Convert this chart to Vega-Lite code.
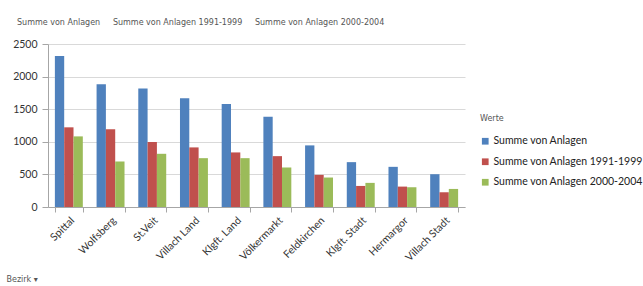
{
  "$schema": "https://vega.github.io/schema/vega-lite/v6.json",
  "autosize": {"type": "none"},
  "padding": {"left": 48, "top": 44, "right": 178, "bottom": 79},
  "width": 417,
  "height": 163,
  "background": "white",
  "title": {
    "text": "Summe von Anlagen\u00a0\u00a0\u00a0\u00a0\u00a0Summe von Anlagen 1991-1999\u00a0\u00a0\u00a0\u00a0\u00a0Summe von Anlagen 2000-2004",
    "anchor": "start",
    "frame": "group",
    "dx": -31,
    "offset": 12,
    "font": "DejaVu Sans",
    "fontSize": 8,
    "fontWeight": "normal",
    "color": "#555555"
  },
  "data": {
    "values": [
      {"Bezirk": "Spittal", "Werte": "Summe von Anlagen", "Wert": 2315},
      {"Bezirk": "Spittal", "Werte": "Summe von Anlagen 1991-1999", "Wert": 1222},
      {"Bezirk": "Spittal", "Werte": "Summe von Anlagen 2000-2004", "Wert": 1083},
      {"Bezirk": "Wolfsberg", "Werte": "Summe von Anlagen", "Wert": 1884},
      {"Bezirk": "Wolfsberg", "Werte": "Summe von Anlagen 1991-1999", "Wert": 1191},
      {"Bezirk": "Wolfsberg", "Werte": "Summe von Anlagen 2000-2004", "Wert": 698},
      {"Bezirk": "St.Veit", "Werte": "Summe von Anlagen", "Wert": 1817},
      {"Bezirk": "St.Veit", "Werte": "Summe von Anlagen 1991-1999", "Wert": 996},
      {"Bezirk": "St.Veit", "Werte": "Summe von Anlagen 2000-2004", "Wert": 816},
      {"Bezirk": "Villach Land", "Werte": "Summe von Anlagen", "Wert": 1668},
      {"Bezirk": "Villach Land", "Werte": "Summe von Anlagen 1991-1999", "Wert": 914},
      {"Bezirk": "Villach Land", "Werte": "Summe von Anlagen 2000-2004", "Wert": 749},
      {"Bezirk": "Klgft. Land", "Werte": "Summe von Anlagen", "Wert": 1581},
      {"Bezirk": "Klgft. Land", "Werte": "Summe von Anlagen 1991-1999", "Wert": 837},
      {"Bezirk": "Klgft. Land", "Werte": "Summe von Anlagen 2000-2004", "Wert": 749},
      {"Bezirk": "Völkermarkt", "Werte": "Summe von Anlagen", "Wert": 1386},
      {"Bezirk": "Völkermarkt", "Werte": "Summe von Anlagen 1991-1999", "Wert": 780},
      {"Bezirk": "Völkermarkt", "Werte": "Summe von Anlagen 2000-2004", "Wert": 606},
      {"Bezirk": "Feldkirchen", "Werte": "Summe von Anlagen", "Wert": 945},
      {"Bezirk": "Feldkirchen", "Werte": "Summe von Anlagen 1991-1999", "Wert": 493},
      {"Bezirk": "Feldkirchen", "Werte": "Summe von Anlagen 2000-2004", "Wert": 452},
      {"Bezirk": "Klgft. Stadt", "Werte": "Summe von Anlagen", "Wert": 688},
      {"Bezirk": "Klgft. Stadt", "Werte": "Summe von Anlagen 1991-1999", "Wert": 323},
      {"Bezirk": "Klgft. Stadt", "Werte": "Summe von Anlagen 2000-2004", "Wert": 370},
      {"Bezirk": "Hermargor", "Werte": "Summe von Anlagen", "Wert": 616},
      {"Bezirk": "Hermargor", "Werte": "Summe von Anlagen 1991-1999", "Wert": 313},
      {"Bezirk": "Hermargor", "Werte": "Summe von Anlagen 2000-2004", "Wert": 303},
      {"Bezirk": "Villach Stadt", "Werte": "Summe von Anlagen", "Wert": 503},
      {"Bezirk": "Villach Stadt", "Werte": "Summe von Anlagen 1991-1999", "Wert": 226},
      {"Bezirk": "Villach Stadt", "Werte": "Summe von Anlagen 2000-2004", "Wert": 277}
    ]
  },
  "mark": {"type": "bar"},
  "encoding": {
    "x": {
      "field": "Bezirk",
      "type": "nominal",
      "sort": null,
      "scale": {"paddingInner": 0.33, "paddingOuter": 0.165},
      "axis": {
        "title": "Bezirk ▾",
        "titleAnchor": "start",
        "titleAlign": "left",
        "titleBaseline": "middle",
        "titleX": -42,
        "titleY": 72,
        "titleFont": "DejaVu Sans",
        "titleFontSize": 8,
        "titleFontWeight": "normal",
        "titleColor": "#555555",
        "labelAngle": -45,
        "labelAlign": "right",
        "labelBaseline": "top",
        "labelFont": "Lato",
        "labelFontSize": 10.5,
        "labelColor": "#333333",
        "labelPadding": 3,
        "tickBand": "extent",
        "tickSize": 5,
        "tickColor": "#a6a6a6",
        "domainColor": "#a6a6a6",
        "grid": false
      }
    },
    "xOffset": {"field": "Werte", "type": "nominal", "scale": {"paddingInner": 0, "paddingOuter": 0}},
    "y": {
      "field": "Wert",
      "type": "quantitative",
      "scale": {"domain": [0, 2500]},
      "axis": {
        "title": null,
        "format": "d",
        "values": [0, 500, 1000, 1500, 2000, 2500],
        "labelFont": "Lato",
        "labelFontSize": 10.5,
        "labelColor": "#333333",
        "labelPadding": 5,
        "tickSize": 6,
        "tickColor": "#a6a6a6",
        "domainColor": "#a6a6a6",
        "gridColor": "#d9d9d9"
      }
    },
    "color": {
      "field": "Werte",
      "type": "nominal",
      "scale": {"range": ["#4F81BD", "#C0504D", "#9BBB59"]},
      "legend": {
        "title": "Werte",
        "orient": "none",
        "legendX": 432,
        "legendY": 71,
        "titleFont": "DejaVu Sans",
        "titleFontSize": 8,
        "titleFontWeight": "normal",
        "titleColor": "#555555",
        "titlePadding": 13,
        "labelFont": "Lato",
        "labelFontSize": 10.5,
        "labelColor": "#222222",
        "labelLimit": 300,
        "labelOffset": 3,
        "symbolType": "square",
        "symbolSize": 45,
        "symbolStrokeWidth": 0,
        "rowPadding": 9.5
      }
    }
  },
  "config": {"view": {"stroke": null}}
}
